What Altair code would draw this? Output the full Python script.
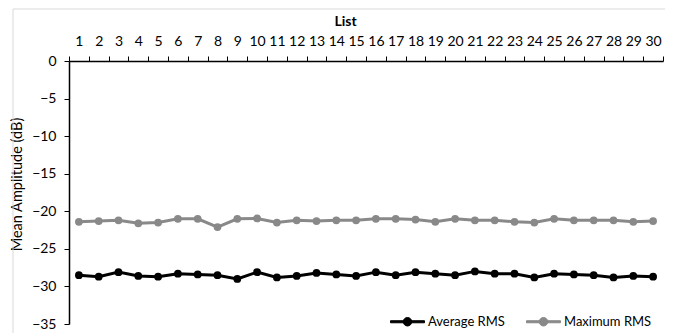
import altair as alt
import pandas as pd

lists = list(range(1, 31))
average_rms = [-28.5, -28.7, -28.1, -28.6, -28.7, -28.3, -28.4, -28.5, -29.0, -28.1,
               -28.8, -28.6, -28.2, -28.4, -28.6, -28.1, -28.5, -28.1, -28.3, -28.5,
               -28.0, -28.3, -28.3, -28.8, -28.3, -28.4, -28.5, -28.8, -28.6, -28.7]
maximum_rms = [-21.4, -21.3, -21.2, -21.6, -21.5, -21.0, -21.0, -22.1, -21.0, -20.95,
               -21.5, -21.2, -21.3, -21.2, -21.2, -21.0, -21.0, -21.1, -21.4, -21.0,
               -21.2, -21.2, -21.4, -21.5, -21.0, -21.2, -21.2, -21.2, -21.4, -21.3]
series_names = ["Average RMS", "Maximum RMS"]
series_colors = ["#000000", "#898989"]
y_ticks = [0, -5, -10, -15, -20, -25, -30, -35]
x_tick_values = [i - 0.5 for i in range(1, 32)]

rows = []
for i, l in enumerate(lists):
    rows.append({"List": l, "Series": series_names[0], "Value": average_rms[i]})
    rows.append({"List": l, "Series": series_names[1], "Value": maximum_rms[i]})
df = pd.DataFrame(rows)

FONT = "Lato"
TXT = "#000000"
W, H = 594, 263

x_enc = alt.X(
    "List:Q",
    scale=alt.Scale(domain=[0.5, 30.5], nice=False, zero=False),
    axis=alt.Axis(
        orient="top",
        title="List",
        values=x_tick_values,
        labelExpr="datum.value > 30 ? '' : format(datum.value + 0.5, 'd')",
        labelOffset=9.9,
        labelAngle=0,
        labelPadding=8,
        labelFlush=False,
        labelOverlap=False,
        labelFont=FONT,
        labelFontSize=14,
        labelColor=TXT,
        tickSize=5,
        tickColor="#000000",
        domainColor="#000000",
        domainWidth=1.5,
        grid=False,
        titleFont=FONT,
        titleFontSize=14,
        titleFontWeight="bold",
        titleColor=TXT,
        titlePadding=6,
        titleX=276,
    ),
)
y_enc = alt.Y(
    "Value:Q",
    scale=alt.Scale(domain=[-35, 0], nice=False),
    axis=alt.Axis(
        title="Mean Amplitude (dB)",
        values=y_ticks,
        tickSize=5,
        tickColor="#000000",
        domainColor="#000000",
        domainWidth=1.5,
        labelPadding=8,
        labelFont=FONT,
        labelFontSize=14,
        labelColor=TXT,
        grid=False,
        titleFont=FONT,
        titleFontSize=14.5,
        titleFontWeight="normal",
        titleColor=TXT,
        titlePadding=7,
        titleY=123,
    ),
)
color_scale = alt.Scale(domain=series_names, range=series_colors)

frame = alt.Chart(pd.DataFrame({"a": [0]})).mark_rect(
    fillOpacity=0, stroke="#d9d9d9", strokeWidth=1
).encode(
    x=alt.value(-56), x2=alt.value(598), y=alt.value(-52), y2=alt.value(320)
)

legend_symbol = ("M-1,-0.06H1V0.06H-1Z "
                 "M-0.25,0A0.25,0.25 0 1,1 0.25,0A0.25,0.25 0 1,1 -0.25,0Z")

series = alt.Chart(df).mark_line(
    strokeWidth=3,
    point=alt.OverlayMarkDef(filled=True, size=60, opacity=1),
).encode(
    x=x_enc,
    y=y_enc,
    color=alt.Color(
        "Series:N",
        scale=color_scale,
        legend=alt.Legend(
            title=None,
            orient="none",
            direction="horizontal",
            legendX=321,
            legendY=243,
            symbolType=legend_symbol,
            symbolSize=1156,
            symbolStrokeWidth=1,
            symbolOpacity=1,
            labelOffset=3,
            columnPadding=19,
            labelFontSize=13,
            labelFont=FONT,
            labelColor=TXT,
        ),
    ),
)

chart = alt.layer(frame, series).properties(
    width=W,
    height=H,
    autosize=alt.AutoSizeParams(type="none"),
    padding={"left": 61, "top": 53, "right": 2, "bottom": 9},
).configure_view(
    stroke=None
)

chart.save("out.html", embed_options={"renderer": "svg", "actions": False})
